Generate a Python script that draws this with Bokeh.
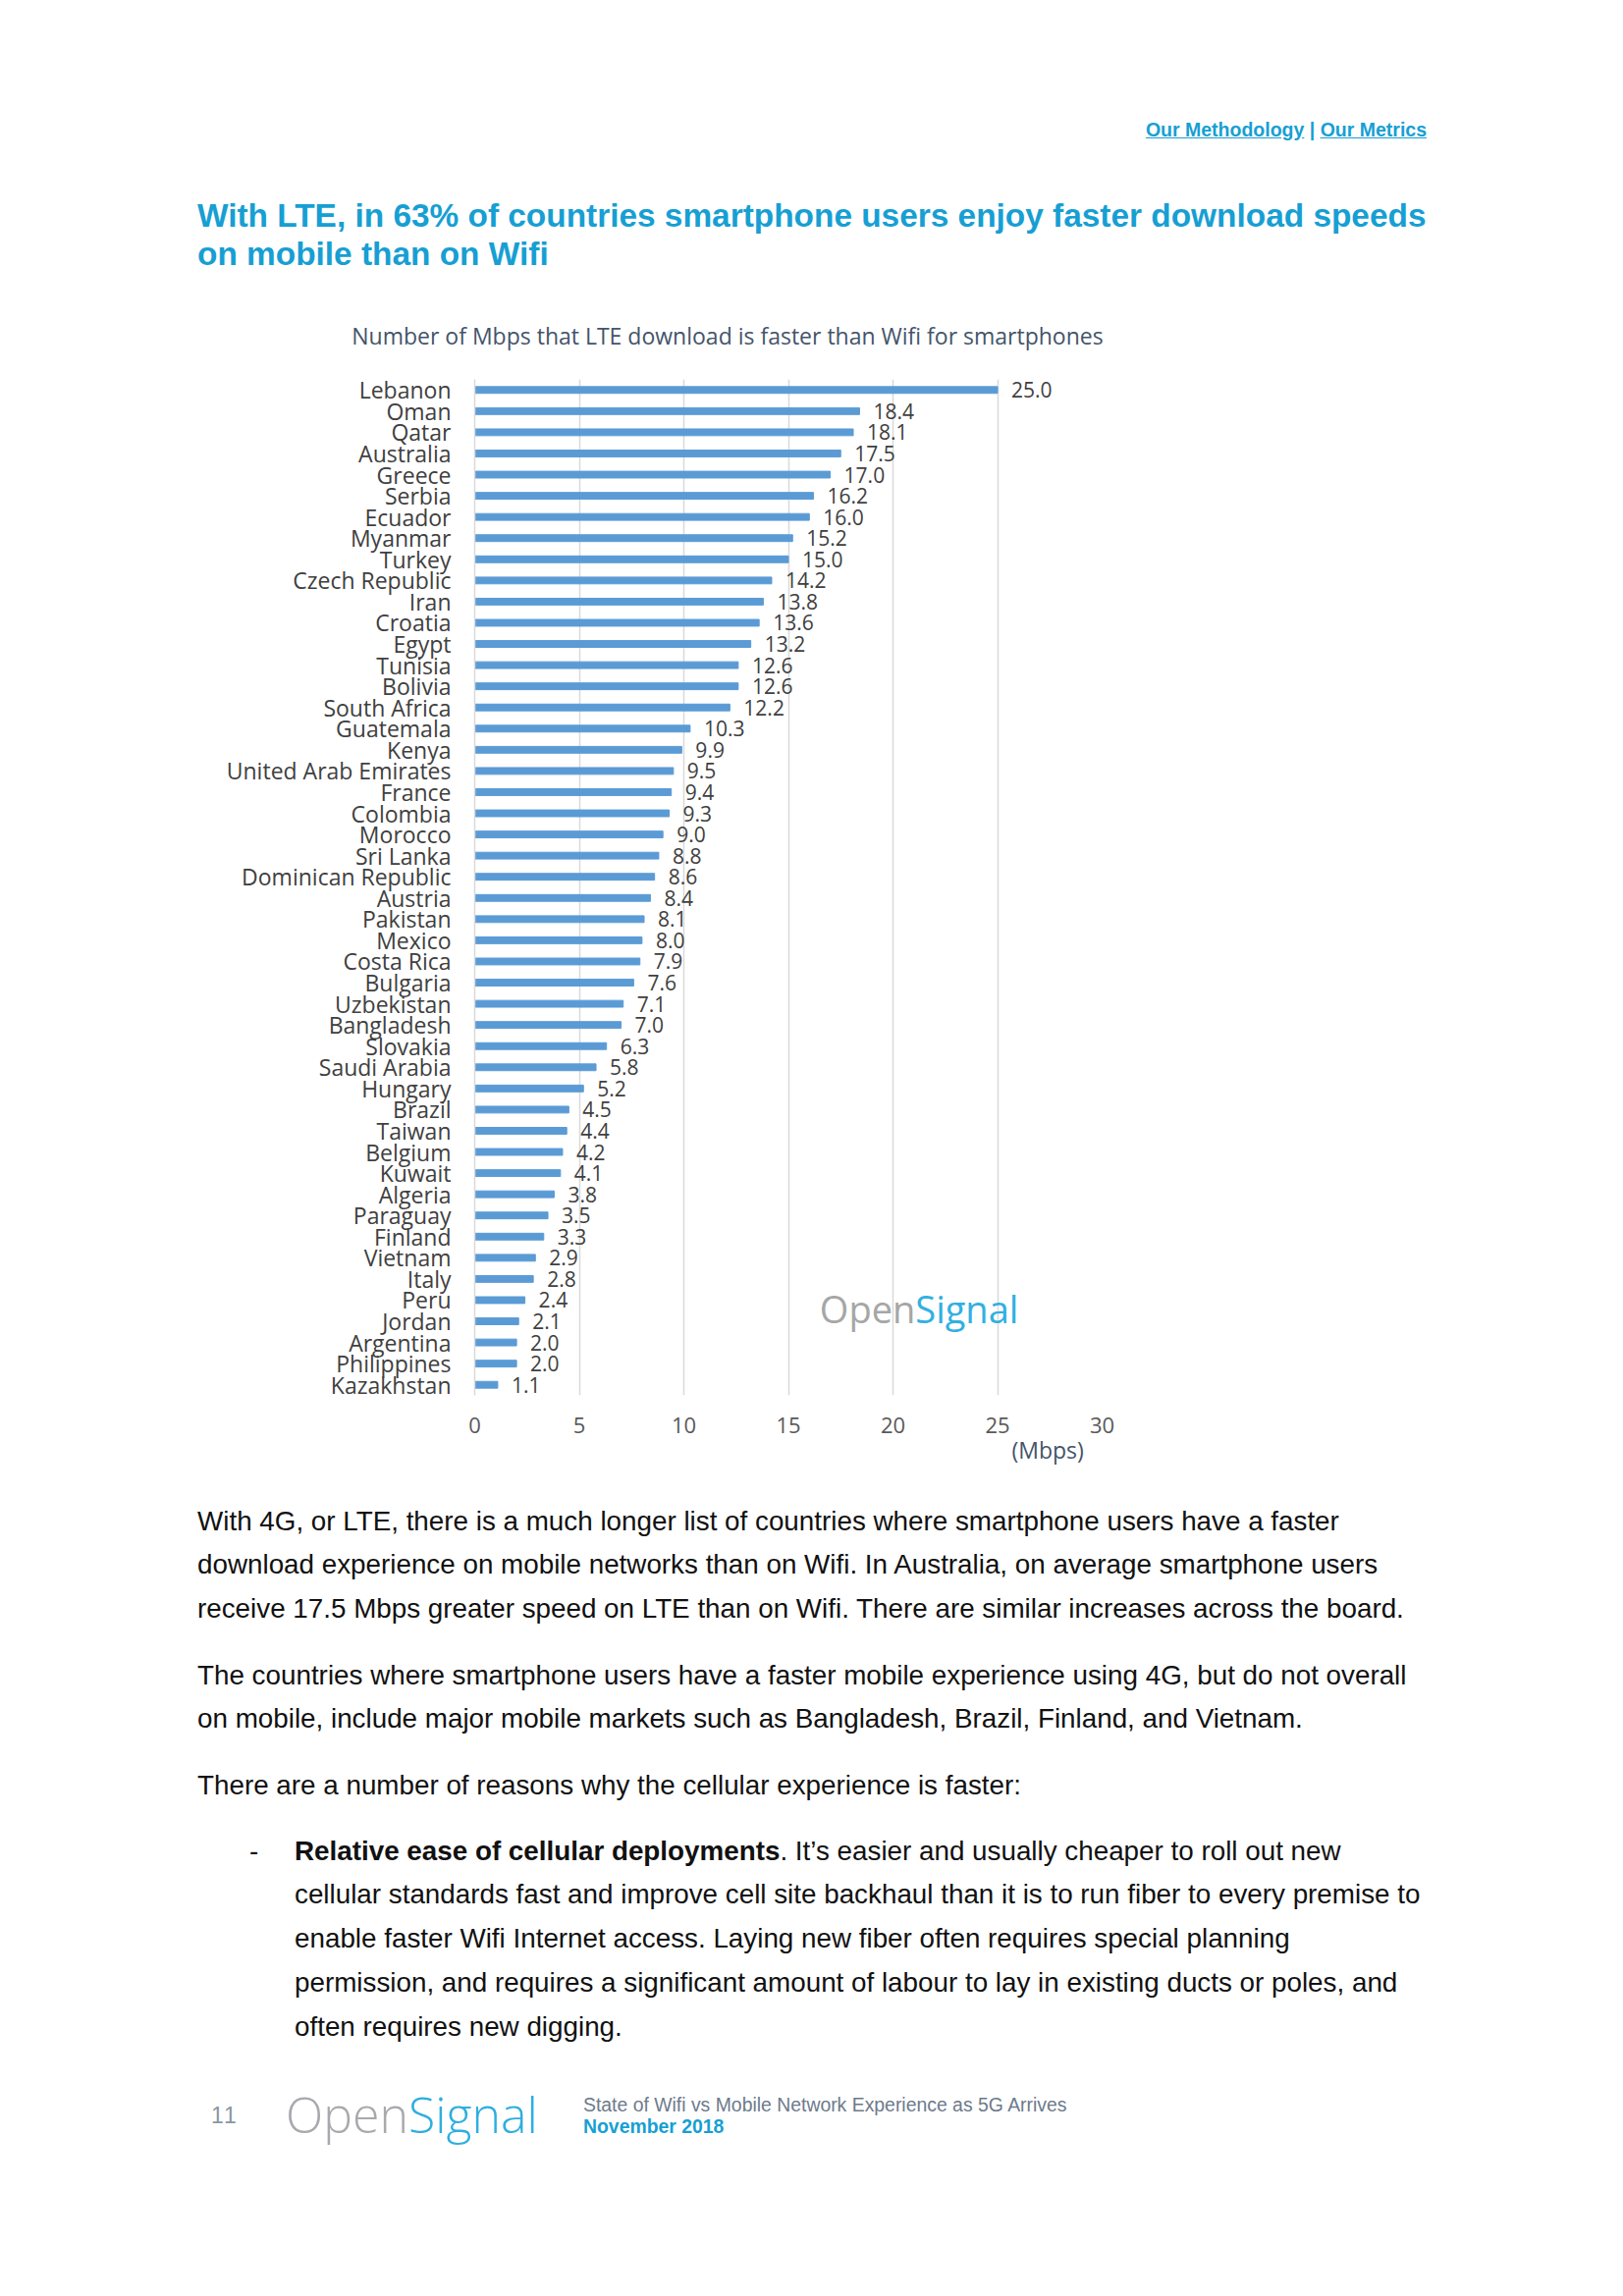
from bokeh.plotting import figure
from bokeh.models import ColumnDataSource, FactorRange, Range1d, FixedTicker, Label, Div, LinearAxis
from bokeh.layouts import column
from bokeh.embed import file_html
from bokeh.resources import INLINE
from bokeh.core.properties import value

countries = ["Lebanon", "Oman", "Qatar", "Australia", "Greece", "Serbia", "Ecuador",
             "Myanmar", "Turkey", "Czech Republic", "Iran", "Croatia", "Egypt", "Tunisia",
             "Bolivia", "South Africa", "Guatemala", "Kenya", "United Arab Emirates",
             "France", "Colombia", "Morocco", "Sri Lanka", "Dominican Republic", "Austria",
             "Pakistan", "Mexico", "Costa Rica", "Bulgaria", "Uzbekistan", "Bangladesh",
             "Slovakia", "Saudi Arabia", "Hungary", "Brazil", "Taiwan", "Belgium", "Kuwait",
             "Algeria", "Paraguay", "Finland", "Vietnam", "Italy", "Peru", "Jordan",
             "Argentina", "Philippines", "Kazakhstan"]
mbps = [25.0, 18.4, 18.1, 17.5, 17.0, 16.2, 16.0, 15.2, 15.0, 14.2, 13.8, 13.6, 13.2,
        12.6, 12.6, 12.2, 10.3, 9.9, 9.5, 9.4, 9.3, 9.0, 8.8, 8.6, 8.4, 8.1, 8.0, 7.9,
        7.6, 7.1, 7.0, 6.3, 5.8, 5.2, 4.5, 4.4, 4.2, 4.1, 3.8, 3.5, 3.3, 2.9, 2.8, 2.4,
        2.1, 2.0, 2.0, 1.1]
x_ticks = [0, 5, 10, 15, 20, 25, 30]

chart_title = "Number of Mbps that LTE download is faster than Wifi for smartphones"
axis_unit = "(Mbps)"
unit_pos = 27.4

src = ColumnDataSource(dict(country=countries, mbps=mbps,
                            label=[f"{v:.1f}" for v in mbps]))

p = figure(width=1637, height=1124,
           y_range=FactorRange(factors=countries[::-1], range_padding=0),
           x_range=Range1d(0, 30),
           output_backend="svg", toolbar_location=None,
           min_border_left=475, min_border_right=523,
           min_border_top=10, min_border_bottom=79,
           outline_line_color=None, margin=(0, 0, 0, 0))

p.hbar(y="country", left=0, right="mbps", height=0.32, color="#5B9BD5", source=src)
p.text(x="mbps", y="country", text="label", x_offset=14, source=src,
       text_baseline="middle", text_align="left",
       text_font=value("Open Sans"), text_font_size="21px", text_color="#404040")

p.xgrid.ticker = FixedTicker(ticks=x_ticks)
p.xgrid.grid_line_color = "#d9d9d9"
p.xgrid.grid_line_width = 1.5
p.ygrid.grid_line_color = None

p.xaxis.ticker = FixedTicker(ticks=x_ticks)
p.xaxis.axis_line_color = None
p.xaxis.major_tick_line_color = None
p.xaxis.minor_tick_line_color = None
p.xaxis.major_tick_out = 0
p.xaxis.major_label_text_font = "Open Sans"
p.xaxis.major_label_text_font_size = "22px"
p.xaxis.major_label_text_color = "#595959"
p.xaxis.major_label_standoff = 22

p.yaxis.axis_line_color = "#d9d9d9"
p.yaxis.axis_line_width = 1.5
p.yaxis.major_tick_line_color = None
p.yaxis.minor_tick_line_color = None
p.yaxis.major_tick_out = 0
p.yaxis.major_label_text_font = "Open Sans"
p.yaxis.major_label_text_font_size = "23px"
p.yaxis.major_label_text_color = "#404040"
p.yaxis.major_label_standoff = 24

unit_axis = LinearAxis(ticker=FixedTicker(ticks=[unit_pos]),
                       major_label_overrides={unit_pos: axis_unit},
                       axis_line_color=None, major_tick_line_color=None,
                       minor_tick_line_color=None, major_tick_out=0,
                       major_label_standoff=-2,
                       major_label_text_font="Open Sans",
                       major_label_text_font_size="23px",
                       major_label_text_color="#44546A")
p.add_layout(unit_axis, "below")

p.add_layout(Label(x=21.07, y=4.12, text="Open", text_align="right",
                   text_baseline="middle", text_font="Open Sans",
                   text_font_size="38px", text_color="#a6a6a6"))
p.add_layout(Label(x=21.07, y=4.12, text="Signal", text_align="left",
                   text_baseline="middle", text_font="Open Sans",
                   text_font_size="38px", text_color="#31b0e2"))

BLUE = "#179fd3"

top_html = f"""
<div style="position:relative;width:1637px;height:368px;font-family:'Liberation Sans',Arial,sans-serif;">
  <div style="position:absolute;right:192px;top:112px;line-height:24px;font-size:19.5px;font-weight:bold;color:{BLUE};white-space:nowrap;">
    <span style="text-decoration:underline;">Our Methodology</span> | <span style="text-decoration:underline;">Our Metrics</span>
  </div>
  <div style="position:absolute;left:193px;top:192px;line-height:39px;font-size:33.4px;font-weight:bold;color:{BLUE};white-space:nowrap;">
    With LTE, in 63% of countries smartphone users enjoy faster download speeds<br>on mobile than on Wifi
  </div>
  <div style="position:absolute;left:0px;width:1466px;top:319px;line-height:30px;text-align:center;font-family:'Open Sans';font-size:23px;color:#44546A;white-space:nowrap;">
    {chart_title}
  </div>
</div>
"""

body_style = "position:absolute;line-height:44.8px;font-size:27.8px;color:#111;white-space:nowrap;"
bottom_html = f"""
<div style="position:relative;width:1637px;height:831px;font-family:'Liberation Sans',Arial,sans-serif;">
  <div style="{body_style}left:193px;top:27.6px;">
    With 4G, or LTE, there is a much longer list of countries where smartphone users have a faster<br>
    download experience on mobile networks than on Wifi. In Australia, on average smartphone users<br>
    receive 17.5 Mbps greater speed on LTE than on Wifi. There are similar increases across the board.
  </div>
  <div style="{body_style}left:193px;top:184.6px;">
    The countries where smartphone users have a faster mobile experience using 4G, but do not overall<br>
    on mobile, include major mobile markets such as Bangladesh, Brazil, Finland, and Vietnam.
  </div>
  <div style="{body_style}left:193px;top:296.6px;">
    There are a number of reasons why the cellular experience is faster:
  </div>
  <div style="{body_style}left:246px;top:363.6px;">-</div>
  <div style="{body_style}left:292px;top:363.6px;">
    <b>Relative ease of cellular deployments</b>. It&rsquo;s easier and usually cheaper to roll out new<br>
    cellular standards fast and improve cell site backhaul than it is to run fiber to every premise to<br>
    enable faster Wifi Internet access. Laying new fiber often requires special planning<br>
    permission, and requires a significant amount of labour to lay in existing ducts or poles, and<br>
    often requires new digging.
  </div>
  <div style="position:absolute;left:207px;top:642px;line-height:26px;font-size:23px;color:#8a96a3;letter-spacing:2px;">11</div>
  <div style="position:absolute;left:283px;top:620px;line-height:68px;font-family:'Open Sans';font-size:50px;font-weight:300;white-space:nowrap;">
    <span style="color:#a7a9ac;">Open</span><span style="color:#2eaee0;">Signal</span>
  </div>
  <div style="position:absolute;left:586px;top:633px;line-height:22px;font-size:19.4px;white-space:nowrap;">
    <span style="color:#6d7a8c;">State of Wifi vs Mobile Network Experience as 5G Arrives</span><br>
    <span style="color:{BLUE};font-weight:bold;">November 2018</span>
  </div>
</div>
"""

top = Div(text=top_html, width=1637, height=368, margin=(0, 0, 0, 0))
bottom = Div(text=bottom_html, width=1637, height=831, margin=(0, 0, 0, 0))

layout = column(top, p, bottom, spacing=0, margin=(8, 0, 0, 8))

open("out.html", "w").write(file_html(layout, INLINE))
